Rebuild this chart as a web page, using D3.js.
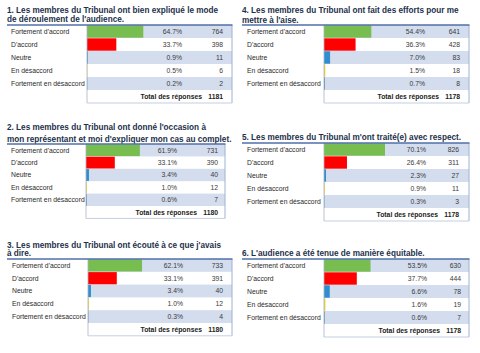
<!DOCTYPE html>
<html>
<head>
<meta charset="utf-8">
<script src="https://cdn.jsdelivr.net/npm/d3@7"></script>
<style>
  body { margin: 0; background: #fff; }
  svg { display: block; }
</style>
</head>
<body>
<div id="chart"></div>
<script>
// categories (same for every question)
const categories = ["Fortement d'accord", "D'accord", "Neutre", "En désaccord", "Fortement en désaccord"];

// titles of the six questions
const titles = [
  ["1. Les membres du Tribunal ont bien expliqué le mode", "de déroulement de l'audience."],
  ["2. Les membres du Tribunal ont donné l'occasion à", "mon représentant et moi d'expliquer mon cas au complet."],
  ["3. Les membres du Tribunal ont écouté à ce que j'avais", "à dire."],
  ["4. Les membres du Tribunal ont fait des efforts pour me", "mettre à l'aise."],
  ["5. Les membres du Tribunal m'ont traité(e) avec respect."],
  ["6. L'audience a été tenue de manière équitable."]
];

// percentages
const pct1 = [64.7, 33.7, 0.9, 0.5, 0.2];
const pct2 = [61.9, 33.1, 3.4, 1.0, 0.6];
const pct3 = [62.1, 33.1, 3.4, 1.0, 0.3];
const pct4 = [54.4, 36.3, 7.0, 1.5, 0.7];
const pct5 = [70.1, 26.4, 2.3, 0.9, 0.3];
const pct6 = [53.5, 37.7, 6.6, 1.6, 0.6];

// number of answers
const counts1 = [764, 398, 11, 6, 2];
const counts2 = [731, 390, 40, 12, 7];
const counts3 = [733, 391, 40, 12, 4];
const counts4 = [641, 428, 83, 18, 8];
const counts5 = [826, 311, 27, 11, 3];
const counts6 = [630, 444, 78, 19, 7];

const totals = [1181, 1180, 1180, 1178, 1178, 1178];
const totalLabel = "Total des réponses";

const pcts = [pct1, pct2, pct3, pct4, pct5, pct6];
const counts = [counts1, counts2, counts3, counts4, counts5, counts6];

const colors = ["#78bd50", "#ff0000", "#2f8ed0", "#f3d22c", "#1f5c99"];

// where each table sits on the page
const layout = [
  { x0: 7,   lab: 11,  bar: 87,  right: 232, pctR: 182, cntR: 223, titleY: [10, 19.5], head: 25,  rowH: 13 },
  { x0: 7,   lab: 11,  bar: 86,  right: 225, pctR: 177, cntR: 218, titleY: [127, 139], head: 144, rowH: 12.4 },
  { x0: 7,   lab: 12,  bar: 88,  right: 232, pctR: 183, cntR: 223, titleY: [245, 253.5], head: 259, rowH: 12.8 },
  { x0: 242, lab: 247, bar: 324, right: 469, pctR: 425, cntR: 460, titleY: [10, 20],  head: 25,  rowH: 13 },
  { x0: 242, lab: 247, bar: 324, right: 469, pctR: 426, cntR: 459, titleY: [137],     head: 143, rowH: 13 },
  { x0: 242, lab: 247, bar: 324, right: 469, pctR: 427, cntR: 461, titleY: [253],     head: 259, rowH: 13 }
];

const W = 480, H = 353;
const svg = d3.select("#chart").append("svg").attr("width", W).attr("height", H);

// one % = ~0.87px in every table
const x = d3.scaleLinear().domain([0, 100]).range([0, 87]);

const tableFont = "'Liberation Sans', Arial, sans-serif";
const fs = "6.8px";

layout.forEach((L, i) => {
  const g = svg.append("g");
  const y = d3.scaleBand().domain(categories.concat([totalLabel])).range([L.head, L.head + 6 * L.rowH]);

  // title
  titles[i].forEach((line, k) => {
    g.append("text")
      .attr("x", L.x0).attr("y", L.titleY[k])
      .attr("dy", "0.35em")
      .style("font-family", tableFont)
      .style("font-weight", "bold")
      .style("font-size", "8.2px")
      .style("fill", "#24304a")
      .text(line);
  });

  // stripes
  g.selectAll(".stripe").data(categories.filter((d, j) => j % 2 == 0))
    .enter().append("rect")
    .attr("x", L.bar).attr("y", d => y(d))
    .attr("width", L.right - L.bar).attr("height", y.bandwidth())
    .attr("fill", "#d3ddee");

  // bars
  g.selectAll(".bar").data(pcts[i])
    .enter().append("rect")
    .attr("x", L.bar)
    .attr("y", (d, j) => y(categories[j]) + 0.3)
    .attr("width", d => x(d))
    .attr("height", y.bandwidth() - 0.6)
    .attr("fill", (d, j) => colors[j]);

  // borders
  const bottom = L.head + 6 * L.rowH;
  g.append("line").attr("x1", L.bar).attr("x2", L.bar).attr("y1", L.head).attr("y2", bottom)
    .attr("stroke", "#a9b3c2").attr("stroke-width", 0.8);
  g.append("line").attr("x1", L.right).attr("x2", L.right).attr("y1", L.head).attr("y2", bottom)
    .attr("stroke", "#9fb2d2").attr("stroke-width", 1);
  g.append("line").attr("x1", L.bar).attr("x2", L.right).attr("y1", bottom).attr("y2", bottom)
    .attr("stroke", "#c3cfe2").attr("stroke-width", 1);
  g.append("line").attr("x1", L.x0).attr("x2", L.right + 0.5).attr("y1", L.head).attr("y2", L.head)
    .attr("stroke", "#4f6fa8").attr("stroke-width", 1.4);

  // labels
  g.selectAll(".lab").data(categories)
    .enter().append("text")
    .attr("x", L.lab).attr("y", d => y(d) + y.bandwidth() / 2)
    .attr("dy", "0.35em")
    .style("font-family", tableFont).style("font-size", fs).style("fill", "#2a2a2a")
    .text(d => d);

  g.selectAll(".pct").data(pcts[i])
    .enter().append("text")
    .attr("x", L.pctR).attr("y", (d, j) => y(categories[j]) + y.bandwidth() / 2)
    .attr("dy", "0.35em").attr("text-anchor", "end")
    .style("font-family", tableFont).style("font-size", fs).style("fill", "#3a3a3a")
    .text(d => d.toFixed(1) + "%");

  g.selectAll(".cnt").data(counts[i])
    .enter().append("text")
    .attr("x", L.cntR).attr("y", (d, j) => y(categories[j]) + y.bandwidth() / 2)
    .attr("dy", "0.35em").attr("text-anchor", "end")
    .style("font-family", tableFont).style("font-size", fs).style("fill", "#3a3a3a")
    .text(d => d);

  // total row
  g.append("text")
    .attr("x", L.cntR - 21).attr("y", y(totalLabel) + y.bandwidth() / 2)
    .attr("dy", "0.35em").attr("text-anchor", "end")
    .style("font-family", tableFont).style("font-size", fs).style("font-weight", "bold").style("fill", "#222")
    .text(totalLabel);
  g.append("text")
    .attr("x", L.cntR).attr("y", y(totalLabel) + y.bandwidth() / 2)
    .attr("dy", "0.35em").attr("text-anchor", "end")
    .style("font-family", tableFont).style("font-size", fs).style("font-weight", "bold").style("fill", "#222")
    .text(totals[i]);
});
</script>
</body>
</html>
